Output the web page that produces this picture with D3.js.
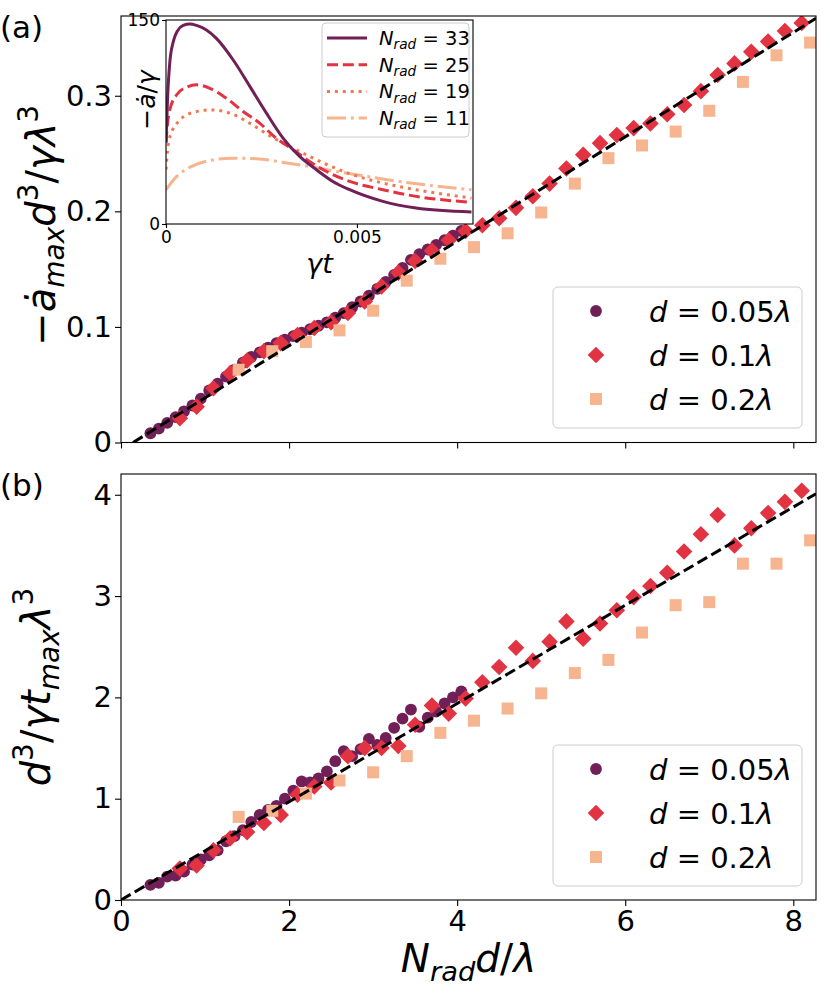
<!DOCTYPE html>
<html><head><meta charset="utf-8">
<script src="https://cdn.jsdelivr.net/npm/d3@7"></script>
<style>body{margin:0;background:#fff} text{font-family:"DejaVu Sans",sans-serif;white-space:pre}</style>
</head><body><svg id="c" width="830" height="997"></svg>
<script>
// ---------------- data ----------------
const xTicks = [0, 2, 4, 6, 8];
const aTicks = [0, 0.1, 0.2, 0.3];
const aTickLabels = ["0", "0.1", "0.2", "0.3"];
const bTicks = [0, 1, 2, 3, 4];
const bTickLabels = ["0", "1", "2", "3", "4"];

const seriesNames = ["0.05", "0.1", "0.2"];
const seriesColors = ["#701f57", "#e13342", "#f6b48f"];

const x005 = [0.35,0.45,0.55,0.65,0.75,0.85,0.95,1.05,1.15,1.25,1.35,1.45,1.55,1.65,1.75,1.85,1.95,2.05,2.15,2.25,2.35,2.45,2.55,2.65,2.75,2.85,2.95,3.05,3.15,3.25,3.35,3.45,3.55,3.65,3.75,3.85,3.95,4.05];
const x01 = [0.7,0.9,1.1,1.3,1.5,1.7,1.9,2.1,2.3,2.5,2.7,2.9,3.1,3.3,3.5,3.7,3.9,4.1,4.3,4.5,4.7,4.9,5.1,5.3,5.5,5.7,5.9,6.1,6.3,6.5,6.7,6.9,7.1,7.3,7.5,7.7,7.9,8.1];
const x02 = [1.4,1.8,2.2,2.6,3.0,3.4,3.8,4.2,4.6,5.0,5.4,5.8,6.2,6.6,7.0,7.4,7.8,8.2];

// panel (a): -a_dot_max d^3 / gamma lambda^3
const y005a = [0.008,0.012,0.017,0.022,0.027,0.032,0.038,0.045,0.051,0.057,0.063,0.069,0.074,0.078,0.082,0.086,0.089,0.092,0.095,0.098,0.101,0.104,0.108,0.112,0.117,0.122,0.127,0.133,0.139,0.145,0.151,0.158,0.163,0.167,0.171,0.175,0.179,0.183];
const y01a = [0.021,0.031,0.047,0.060,0.071,0.079,0.086,0.093,0.099,0.104,0.112,0.122,0.135,0.147,0.157,0.166,0.175,0.183,0.188,0.194,0.203,0.213,0.224,0.237,0.249,0.259,0.266,0.272,0.276,0.284,0.292,0.304,0.318,0.328,0.338,0.347,0.356,0.363];
const y02a = [0.063,0.079,0.087,0.097,0.114,0.140,0.159,0.169,0.181,0.199,0.224,0.246,0.257,0.269,0.287,0.312,0.335,0.346];

// panel (b): d^3 / gamma t_max lambda^3
const y005b = [0.15,0.17,0.23,0.24,0.28,0.35,0.40,0.44,0.49,0.58,0.63,0.69,0.77,0.84,0.89,0.93,1.00,1.08,1.17,1.16,1.20,1.27,1.37,1.47,1.42,1.49,1.59,1.53,1.60,1.70,1.79,1.88,1.71,1.80,1.86,1.94,2.00,2.06];
const y01b = [0.31,0.34,0.49,0.61,0.67,0.76,0.84,1.04,1.12,1.16,1.42,1.50,1.50,1.52,1.73,1.92,1.84,1.99,2.15,2.30,2.49,2.36,2.55,2.75,2.58,2.73,2.86,2.99,3.10,3.23,3.44,3.61,3.80,3.50,3.67,3.82,3.93,4.04];
const y02b = [0.82,0.88,1.05,1.18,1.26,1.42,1.65,1.77,1.89,2.04,2.24,2.37,2.64,2.91,2.94,3.32,3.32,3.55];

// dashed linear fits (end points)
const fitAx = [0.144, 8.27], fitAy = [0, 0.367];
const fitBx = [0, 8.27], fitBy = [0, 4.01];

// inset: -a_dot/gamma vs gamma t
const insetNames = ["33", "25", "19", "11"];
const insetColors = ["#701f57", "#e13342", "#f37651", "#f6b48f"];
const insetDash = [null, "11,4.8", "3,4.9", "19,4.8,3,4.8"];
const tN33 = [0,0.00004,0.0001,0.0002,0.0003,0.00045,0.00063,0.0008,0.00106,0.00132,0.00176,0.0022,0.00263,0.00307,0.0035,0.00394,0.00437,0.00481,0.00568,0.00655,0.008];
const vN33 = [60,92,119,135,142,146,147,146,142.7,136.5,120.6,101,81.5,63,49.7,39.9,31.3,25.2,16.6,11.7,8.8];
const tN25 = [0,0.00004,0.0001,0.00028,0.00054,0.0008,0.00115,0.00158,0.00202,0.00246,0.00289,0.00333,0.00376,0.00429,0.00481,0.00568,0.00655,0.008];
const vN25 = [60,74,84,95,100.6,102.3,99.8,92.5,82.7,74,63,54.6,46,37.4,31.3,25.2,20.3,15.9];
const tN19 = [0,0.00004,0.0001,0.00037,0.00071,0.00119,0.00167,0.0022,0.00272,0.00324,0.00376,0.00429,0.00481,0.00568,0.00655,0.008];
const vN19 = [40,54,64,76.6,82,83.9,81.5,74,64.8,57,49.7,42.8,37,30.1,25.2,19.1];
const tN11 = [0,0.00028,0.00063,0.00115,0.00176,0.00237,0.00307,0.00376,0.00446,0.00524,0.00611,0.00699,0.008];
const vN11 = [25.2,35,41.8,46.7,48.4,48,45.3,42.3,38.7,35,31.3,28.1,25.2];
const insetXTicks = [0, 0.005], insetXTickLabels = ["0", "0.005"];
const insetYTicks = [0, 150], insetYTickLabels = ["0", "150"];

// ---------------- drawing ----------------
const svg = d3.select("#c");
const L = 121, R = 816;
const A = {top: 16, bottom: 442.5}, B = {top: 474, bottom: 900};
const x = d3.scaleLinear().domain([0, 8.27]).range([L, R]);
const ya = d3.scaleLinear().domain([0, 0.369]).range([A.bottom, A.top]);
const yb = d3.scaleLinear().domain([0, 4.205]).range([B.bottom, B.top]);
const FS = 29;

function mt(t, parts, fs) {
  let cur = 0;
  parts.forEach(([s, k]) => {
    let off = 0, size = fs, it = false;
    if (k === 'i') it = true;
    if (k === 'si') { off = 0.22 * fs; size = 0.7 * fs; it = true; }
    if (k === 'sr') { off = 0.22 * fs; size = 0.7 * fs; }
    if (k === 'pr') { off = -0.42 * fs; size = 0.7 * fs; }
    t.append('tspan').attr('dy', off - cur).attr('font-size', size)
      .attr('font-style', it ? 'italic' : 'normal').text(s);
    cur = off;
  });
}

const diamond = s => `M0,${-s}L${s},0L0,${s}L${-s},0Z`;

function panel(ys, yTicks, yLabels, y, fx, fy, showXLabels, clipId) {
  const g = svg.append('g');
  svg.append('clipPath').attr('id', clipId).append('rect')
    .attr('x', L).attr('y', y.range()[1]).attr('width', R - L).attr('height', y.range()[0] - y.range()[1]);
  const ay = g.append('g').attr('transform', `translate(${L},0)`)
    .call(d3.axisLeft(y).tickValues(yTicks).tickFormat((d, i) => yLabels[i]).tickSizeInner(6).tickSizeOuter(0).tickPadding(3));
  const ax = g.append('g').attr('transform', `translate(0,${y.range()[0]})`)
    .call(d3.axisBottom(x).tickValues(xTicks).tickFormat(showXLabels ? (d => String(d)) : (() => "")).tickSizeInner(6).tickSizeOuter(0).tickPadding(4));
  [ay, ax].forEach(a => {
    a.select('.domain').remove();
    a.selectAll('line').attr('stroke', '#000').attr('stroke-width', 1.1);
    a.selectAll('text').attr('font-size', FS).attr('fill', '#000').attr('font-family', 'DejaVu Sans');
  });
  const pts = g.append('g').attr('clip-path', `url(#${clipId})`);
  pts.selectAll('circle').data(x005).join('circle')
    .attr('cx', d => x(d)).attr('cy', (d, i) => y(ys[0][i])).attr('r', 5.9).attr('fill', seriesColors[0]);
  pts.selectAll('path.dm').data(x01).join('path').attr('class', 'dm')
    .attr('d', diamond(8.3)).attr('transform', (d, i) => `translate(${x(d)},${y(ys[1][i])})`).attr('fill', seriesColors[1]);
  pts.selectAll('rect.sq').data(x02).join('rect').attr('class', 'sq')
    .attr('x', d => x(d) - 6).attr('y', (d, i) => y(ys[2][i]) - 6).attr('width', 12).attr('height', 12).attr('fill', seriesColors[2]);
  pts.append('path').datum(fx.map((d, i) => [d, fy[i]]))
    .attr('d', d3.line().x(d => x(d[0])).y(d => y(d[1])))
    .attr('fill', 'none').attr('stroke', '#000').attr('stroke-width', 3).attr('stroke-dasharray', '11.1,4.8');
  g.append('rect').attr('x', L).attr('y', y.range()[1]).attr('width', R - L).attr('height', y.range()[0] - y.range()[1])
    .attr('fill', 'none').attr('stroke', '#000').attr('stroke-width', 1.1);
  return g;
}

panel([y005a, y01a, y02a], aTicks, aTickLabels, ya, fitAx, fitAy, false, 'clipA');
panel([y005b, y01b, y02b], bTicks, bTickLabels, yb, fitBx, fitBy, true, 'clipB');

function legend(bottom) {
  const g = svg.append('g');
  const top = bottom - 141;
  g.append('rect').attr('x', 553).attr('y', top).attr('width', 249).attr('height', 141).attr('rx', 5)
    .attr('fill', '#fff').attr('fill-opacity', 0.8).attr('stroke', '#cccccc').attr('stroke-width', 1);
  seriesNames.forEach((n, i) => {
    const cy = top + 24 + i * 44;
    if (i === 0) g.append('circle').attr('cx', 596).attr('cy', cy).attr('r', 5.9).attr('fill', seriesColors[0]);
    if (i === 1) g.append('path').attr('d', diamond(8.3)).attr('transform', `translate(596,${cy})`).attr('fill', seriesColors[1]);
    if (i === 2) g.append('rect').attr('x', 590).attr('y', cy - 6).attr('width', 12).attr('height', 12).attr('fill', seriesColors[2]);
    const t = g.append('text').attr('x', 649).attr('y', cy + 10.5);
    mt(t, [['d', 'i'], [' = ' + n, 'r'], ['λ', 'i']], FS);
  });
}
legend(428);
legend(886);

svg.append('text').attr('x', 0).attr('y', 38).attr('font-size', 31).text('(a)');
svg.append('text').attr('x', 0).attr('y', 496).attr('font-size', 31).text('(b)');

const xl = svg.append('text').attr('x', (L + R) / 2).attr('y', 972).attr('text-anchor', 'middle');
mt(xl, [['N', 'i'], ['rad', 'si'], ['d', 'i'], ['/', 'r'], ['λ', 'i']], 39);
const yla = svg.append('text').attr('transform', `translate(55,${(A.top + A.bottom) / 2 - 4}) rotate(-90)`).attr('text-anchor', 'middle');
mt(yla, [['−', 'r'], ['ȧ', 'i'], ['max', 'si'], ['d', 'i'], ['3', 'pr'], ['/', 'r'], ['γλ', 'i'], ['3', 'pr']], 40);
const ylb = svg.append('text').attr('transform', `translate(50,${(B.top + B.bottom) / 2}) rotate(-90)`).attr('text-anchor', 'middle');
mt(ylb, [['d', 'i'], ['3', 'pr'], ['/', 'r'], ['γt', 'i'], ['max', 'si'], ['λ', 'i'], ['3', 'pr']], 40);

// ---------------- inset ----------------
const I = {l: 166, r: 473, t: 20, b: 224};
const xi = d3.scaleLinear().domain([0, 0.00804]).range([I.l, I.r]);
const yi = d3.scaleLinear().domain([0, 150]).range([I.b, I.t]);
const ig = svg.append('g');
ig.append('rect').attr('x', I.l).attr('y', I.t).attr('width', I.r - I.l).attr('height', I.b - I.t).attr('fill', '#fff');
svg.append('clipPath').attr('id', 'clipI').append('rect').attr('x', I.l).attr('y', I.t).attr('width', I.r - I.l).attr('height', I.b - I.t);
const insetT = [tN33, tN25, tN19, tN11], insetV = [vN33, vN25, vN19, vN11];
const lineI = d3.line().x(d => xi(d[0])).y(d => yi(d[1])).curve(d3.curveMonotoneX);
const lg = ig.append('g').attr('clip-path', 'url(#clipI)');
[3, 2, 1, 0].forEach(k => {
  lg.append('path').datum(insetT[k].map((t, i) => [t, insetV[k][i]]))
    .attr('d', lineI).attr('fill', 'none').attr('stroke', insetColors[k]).attr('stroke-width', 3)
    .attr('stroke-dasharray', insetDash[k]);
});
const iax = ig.append('g').attr('transform', `translate(0,${I.b})`)
  .call(d3.axisBottom(xi).tickValues(insetXTicks).tickFormat((d, i) => insetXTickLabels[i]).tickSizeInner(4).tickSizeOuter(0).tickPadding(3));
const iay = ig.append('g').attr('transform', `translate(${I.l},0)`)
  .call(d3.axisLeft(yi).tickValues(insetYTicks).tickFormat((d, i) => insetYTickLabels[i]).tickSizeInner(4).tickSizeOuter(0).tickPadding(2));
[iax, iay].forEach(a => {
  a.select('.domain').remove();
  a.selectAll('line').attr('stroke', '#000').attr('stroke-width', 1.1);
  a.selectAll('text').attr('font-size', 17).attr('fill', '#000').attr('font-family', 'DejaVu Sans');
});
ig.append('rect').attr('x', I.l).attr('y', I.t).attr('width', I.r - I.l).attr('height', I.b - I.t)
  .attr('fill', 'none').attr('stroke', '#000').attr('stroke-width', 1.1);
const ixl = ig.append('text').attr('x', (I.l + I.r) / 2).attr('y', 273).attr('text-anchor', 'middle');
mt(ixl, [['γt', 'i']], 27);
const iyl = ig.append('text').attr('transform', `translate(155,100) rotate(-90)`).attr('text-anchor', 'middle');
mt(iyl, [['−', 'r'], ['ȧ', 'i'], ['/', 'r'], ['γ', 'i']], 25);
ig.append('rect').attr('x', 322).attr('y', 23).attr('width', 147).attr('height', 114).attr('rx', 4)
  .attr('fill', '#fff').attr('fill-opacity', 0.8).attr('stroke', '#cccccc').attr('stroke-width', 1);
insetNames.forEach((n, i) => {
  const cy = 38 + i * 26.7;
  ig.append('line').attr('x1', 327).attr('x2', 367).attr('y1', cy).attr('y2', cy)
    .attr('stroke', insetColors[i]).attr('stroke-width', 3).attr('stroke-dasharray', insetDash[i]);
  const t = ig.append('text').attr('x', 379).attr('y', cy + 7);
  mt(t, [['N', 'i'], ['rad', 'si'], [' = ' + n, 'r']], 19.5);
});
</script></body></html>
